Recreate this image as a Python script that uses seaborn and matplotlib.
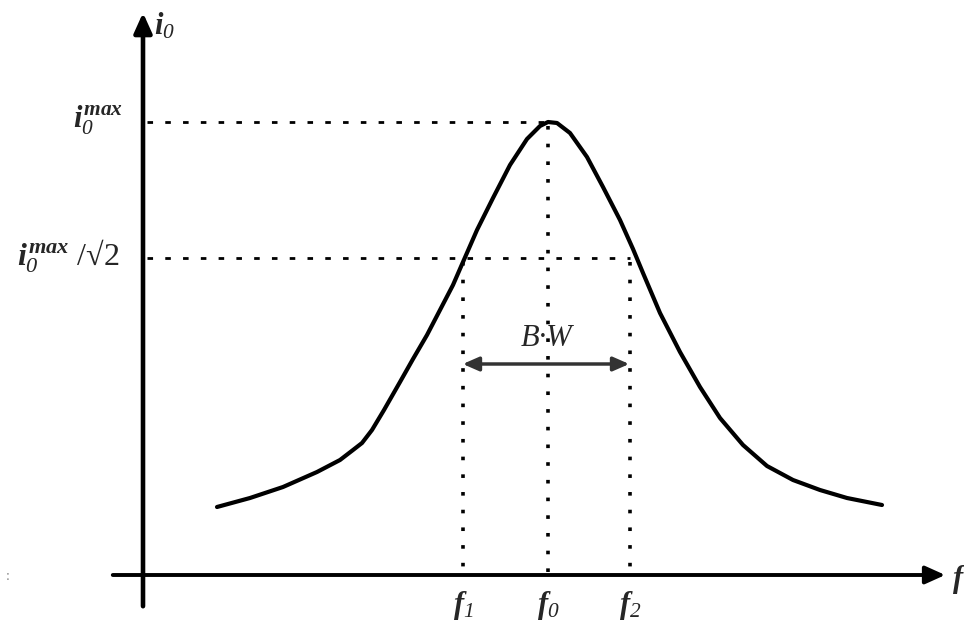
import matplotlib
matplotlib.use("Agg")
import matplotlib.pyplot as plt
import seaborn as sns
import pandas as pd

sns.set_theme(style="white")
plt.rcParams['font.family'] = ['Liberation Serif', 'DejaVu Serif']
plt.rcParams['mathtext.fontset'] = 'custom'
plt.rcParams['mathtext.it'] = 'Liberation Serif:italic:bold'
plt.rcParams['mathtext.rm'] = 'Liberation Serif:italic'
plt.rcParams['mathtext.bf'] = 'Liberation Serif:bold'

# Resonance curve (pixel-space units of the diagram)
curve_x = [217, 250, 283, 317, 340, 353, 362, 372, 384, 400, 413, 427, 440, 453,
           463, 477, 493, 510, 527, 540, 548, 557, 570, 587, 603, 620, 633, 643,
           660, 680, 700, 720, 743, 767, 793, 820, 847, 882]
curve_y = [507, 498, 487, 472, 460, 450, 443, 430, 410, 382, 359, 335, 310, 285,
           262, 230, 198, 165, 139, 126, 122, 123, 133, 157, 187, 220, 249, 273,
           313, 352, 387, 418, 445, 466, 480, 490, 498, 505]

f_positions = [463, 548, 630]
f_labels = [r'$f_{1}$', r'$f_{0}$', r'$f_{2}$']
level_values = [122, 258]
level_labels = [r'$i_{0}^{max}$', r'$i_{0}^{max}$' + ' /√2']
axis_origin = (143, 575)

df = pd.DataFrame({'x': curve_x, 'y': curve_y})

fig = plt.figure(figsize=(9.64, 6.31), dpi=100)
ax = fig.add_axes([0, 0, 1, 1])
ax.set_xlim(0, 964)
ax.set_ylim(631, 0)
ax.axis('off')

sns.lineplot(data=df, x='x', y='y', sort=False, color='black', linewidth=3.0, ax=ax,
             solid_joinstyle='round', solid_capstyle='round')

ox, oy = axis_origin
# axes with arrows
ax.annotate('', xy=(ox, 10), xytext=(ox, 609),
            arrowprops=dict(arrowstyle='-|>,head_length=1.0,head_width=0.45', color='black', lw=3.3))
ax.annotate('', xy=(948, oy), xytext=(110, oy),
            arrowprops=dict(arrowstyle='-|>,head_length=1.0,head_width=0.45', color='black', lw=2.8))

# horizontal dotted levels
peak_x = f_positions[1]
for yv, xe in zip(level_values, [peak_x, f_positions[2]]):
    ax.plot([ox + 4, xe], [yv, yv], color='black', lw=2.0, linestyle=(0, (2.0, 4.4)))

# vertical dotted lines
for fx, yv in zip(f_positions, [level_values[1], level_values[0], level_values[1]]):
    ax.plot([fx, fx], [yv + 4, oy], color='black', lw=2.6, linestyle=(0, (1.0, 3.9)))

# labels
ax.text(154, 26, r'$i_{0}$', fontsize=22, ha='left', va='center')
ax.text(123, 120, level_labels[0], fontsize=22, ha='right', va='center')
ax.text(119, 256, level_labels[1], fontsize=23, ha='right', va='center')
for fx, lab in zip(f_positions, f_labels):
    ax.text(fx, 606, lab, fontsize=22, ha='center', va='center')
ax.text(952, 580, r'$f$', fontsize=22, ha='left', va='center')
ax.text(8, 577, ':', fontsize=10, ha='center', va='center', color='gray')

# bandwidth arrow
ax.annotate('', xy=(f_positions[0] - 3, 364), xytext=(f_positions[2] + 2, 364),
            arrowprops=dict(arrowstyle='<|-|>,head_length=0.8,head_width=0.35', color='#333333', lw=2.5))
ax.text((f_positions[0] + f_positions[2]) / 2, 338, 'B·W', fontsize=22, style='italic',
        ha='center', va='center')

fig.savefig('out.png', dpi=100)
